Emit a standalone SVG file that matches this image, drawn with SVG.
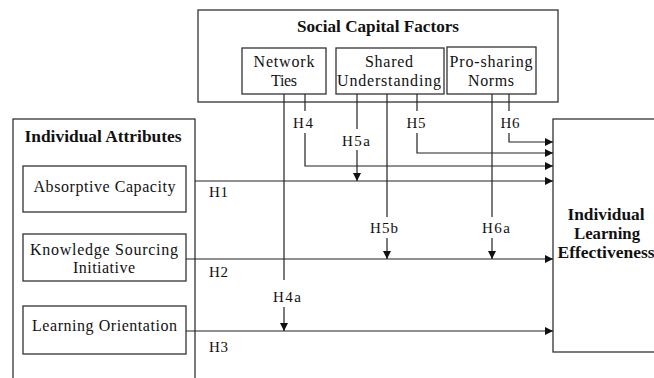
<svg xmlns="http://www.w3.org/2000/svg" width="654" height="378" viewBox="0 0 654 378">
<defs>
<style>
.box{fill:#fff;stroke:#333;stroke-width:1.3}
.t{font-family:"Liberation Serif","Times New Roman",serif;font-size:16px;fill:#111;text-anchor:middle}
.b{font-family:"Liberation Serif","Times New Roman",serif;font-size:16px;font-weight:bold;fill:#111;text-anchor:middle}
.l{font-family:"Liberation Serif","Times New Roman",serif;font-size:15px;fill:#111}
.c{fill:none;stroke:#222;stroke-width:1.2}
</style>
<marker id="ah" viewBox="0 0 10 10" refX="10" refY="5" markerWidth="9" markerHeight="8" markerUnits="userSpaceOnUse" orient="auto"><path d="M0,0 L10,5 L0,10 Z" fill="#111"/></marker>
</defs>
<rect width="654" height="378" fill="#fff"/>
<g id="social-capital">
<rect class="box" x="198" y="10" width="360" height="92"/>
<text class="b" x="378" y="32" textLength="162" lengthAdjust="spacingAndGlyphs">Social Capital Factors</text>
</g>
<g id="network-ties">
<rect class="box" x="242" y="48" width="84" height="46"/>
<text class="t" x="284" y="67" textLength="61">Network</text>
<text class="t" x="284" y="86" textLength="26">Ties</text>
</g>
<g id="shared-understanding">
<rect class="box" x="336" y="48" width="108" height="46"/>
<text class="t" x="389" y="67" textLength="48">Shared</text>
<text class="t" x="389" y="86" textLength="104">Understanding</text>
</g>
<g id="pro-sharing-norms">
<rect class="box" x="447" y="47" width="89" height="47"/>
<text class="t" x="491" y="67" textLength="83">Pro-sharing</text>
<text class="t" x="491" y="86" textLength="46">Norms</text>
</g>
<g id="individual-attributes">
<rect class="box" x="13" y="119" width="182" height="270"/>
<text class="b" x="103" y="142" textLength="157" lengthAdjust="spacingAndGlyphs">Individual Attributes</text>
</g>
<g id="absorptive-capacity">
<rect class="box" x="23" y="166" width="163" height="46"/>
<text class="t" x="104.5" y="192" textLength="142">Absorptive Capacity</text>
</g>
<g id="knowledge-sourcing">
<rect class="box" x="23" y="234" width="163" height="47"/>
<text class="t" x="104" y="255" textLength="148">Knowledge Sourcing</text>
<text class="t" x="104" y="273" textLength="62">Initiative</text>
</g>
<g id="learning-orientation">
<rect class="box" x="23" y="306" width="163" height="48"/>
<text class="t" x="104.5" y="331" textLength="145">Learning Orientation</text>
</g>
<g id="learning-effectiveness">
<rect class="box" x="553" y="119" width="120" height="233"/>
<text class="b" x="606" y="220" textLength="77" lengthAdjust="spacingAndGlyphs">Individual</text>
<text class="b" x="607" y="239" textLength="66" lengthAdjust="spacingAndGlyphs">Learning</text>
<text class="b" x="606" y="258" textLength="97" lengthAdjust="spacingAndGlyphs">Effectiveness</text>
</g>
<g id="connectors">
<path class="c" d="M195,181 H553" marker-end="url(#ah)"/>
<path class="c" d="M186,259 H553" marker-end="url(#ah)"/>
<path class="c" d="M186,331 H553" marker-end="url(#ah)"/>
<path class="c" d="M284,94 V280"/>
<path class="c" d="M284,307 V331" marker-end="url(#ah)"/>
<path class="c" d="M305,94 V111"/>
<path class="c" d="M305,133 V166 H553" marker-end="url(#ah)"/>
<path class="c" d="M357,94 V129"/>
<path class="c" d="M357,150 V181" marker-end="url(#ah)"/>
<path class="c" d="M387,94 V217"/>
<path class="c" d="M387,238 V259" marker-end="url(#ah)"/>
<path class="c" d="M417,94 V111"/>
<path class="c" d="M417,133 V153 H553" marker-end="url(#ah)"/>
<path class="c" d="M492,94 V217"/>
<path class="c" d="M492,238 V259" marker-end="url(#ah)"/>
<path class="c" d="M509,94 V111"/>
<path class="c" d="M509,133 V142 H553" marker-end="url(#ah)"/>
</g>
<g id="labels">
<text class="l" x="209" y="197" textLength="19">H1</text>
<text class="l" x="209" y="277" textLength="19">H2</text>
<text class="l" x="209" y="352" textLength="19">H3</text>
<text class="l" x="303" y="128" text-anchor="middle" textLength="20">H4</text>
<text class="l" x="356" y="146" text-anchor="middle" textLength="28">H5a</text>
<text class="l" x="416" y="128" text-anchor="middle" textLength="19">H5</text>
<text class="l" x="510" y="128" text-anchor="middle" textLength="19">H6</text>
<text class="l" x="384" y="233" text-anchor="middle" textLength="28">H5b</text>
<text class="l" x="496" y="233" text-anchor="middle" textLength="28">H6a</text>
<text class="l" x="287" y="302" text-anchor="middle" textLength="28">H4a</text>
</g>
</svg>
